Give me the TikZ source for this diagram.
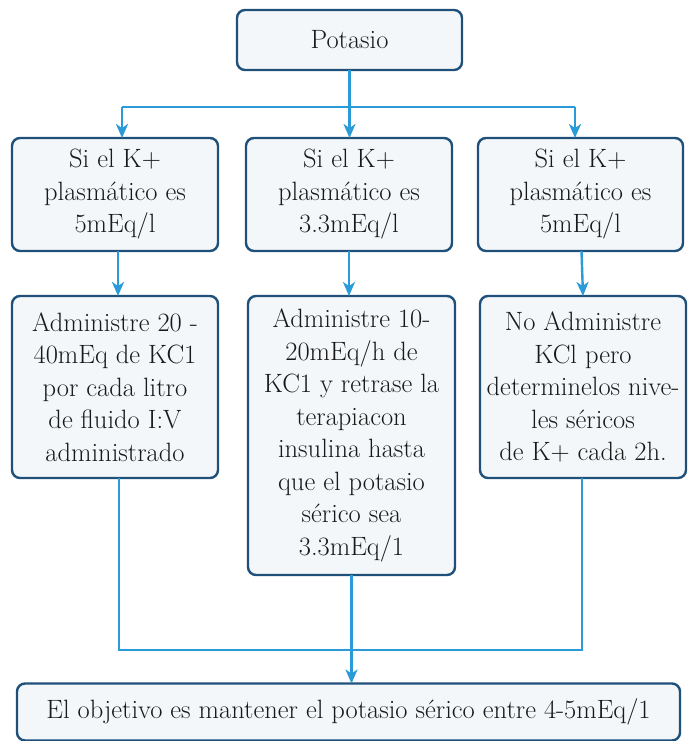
\documentclass[tikz,border=0pt]{standalone}
\usepackage{fontspec}
\usetikzlibrary{arrows.meta}
\definecolor{boxline}{RGB}{30,80,122}
\definecolor{boxfill}{RGB}{244,247,249}
\definecolor{conn}{RGB}{42,155,216}
\begin{document}
\begin{tikzpicture}[x=1pt,y=-1pt,
  box/.style={draw=boxline, fill=boxfill, line width=2.4pt, rounded corners=8pt,
    inner sep=0pt, outer sep=0pt, align=center, text=black!90,
    font=\fontsize{26.5}{32.5}\selectfont},
  conn/.style={draw=conn, line width=2.4pt},
  arr/.style={conn, -{Stealth[length=14pt,width=12pt,inset=4pt]}}]
\useasboundingbox (0,0) rectangle (689,741);
\node[box, minimum width=225pt, minimum height=60pt] (top) at (349.5,40) {Potasio};
\node[box, minimum width=206pt, minimum height=113pt] (b1) at (115,194.5) {Si el K+\\plasmático es\\5mEq/l};
\node[box, minimum width=206pt, minimum height=113pt] (b2) at (349,194.5) {Si el K+\\plasmático es\\3.3mEq/l};
\node[box, minimum width=205pt, minimum height=113pt] (b3) at (580.5,194.5) {Si el K+\\plasmático es\\5mEq/l};
\node[box, minimum width=206pt, minimum height=182pt] (c1) at (115,387) {Administre 20 -\\40mEq de KC1\\por cada litro\\de fluido I:V\\administrado};
\node[box, minimum width=207pt, minimum height=279pt] (c2) at (351.5,435.5) {Administre 10-\\20mEq/h de\\KC1 y retrase la\\terapiacon\\insulina hasta\\que el potasio\\sérico sea\\3.3mEq/1};
\node[box, minimum width=206pt, minimum height=182pt] (c3) at (583,387) {No Administre\\KCl pero\\determinelos nive-\\les séricos\\de K+ cada 2h.};
\node[box, minimum width=663pt, minimum height=57pt] (d) at (348.5,712) {El objetivo es mantener el potasio sérico entre 4-5mEq/1};
% top distribution
\coordinate (hl) at (122,107);
\coordinate (hr) at (575,107);
\draw[conn] (hl) -- (hr);
\draw[arr] (top.south) -- (top.south |- b2.north);
\draw[arr] (hl) -- (hl |- b1.north);
\draw[arr] (hr) -- (hr |- b3.north);
% second row to third row
\draw[arr] ([xshift=3pt]b1.south) -- ([xshift=3pt]c1.north);
\draw[arr] (b2.south) -- (b2.south |- c2.north);
\draw[arr] ([xshift=1pt]b3.south) -- ([xshift=0pt]c3.north);
% collection
\coordinate (jn) at (350,650);
\draw[conn] ([xshift=4pt]c1.south) -- ([xshift=4pt]c1.south |- jn) -- ([xshift=-1pt]c3.south |- jn) -- ([xshift=-1pt]c3.south);
\draw[arr] (c2.south) -- (c2.south |- d.north);
\end{tikzpicture}
\end{document}
